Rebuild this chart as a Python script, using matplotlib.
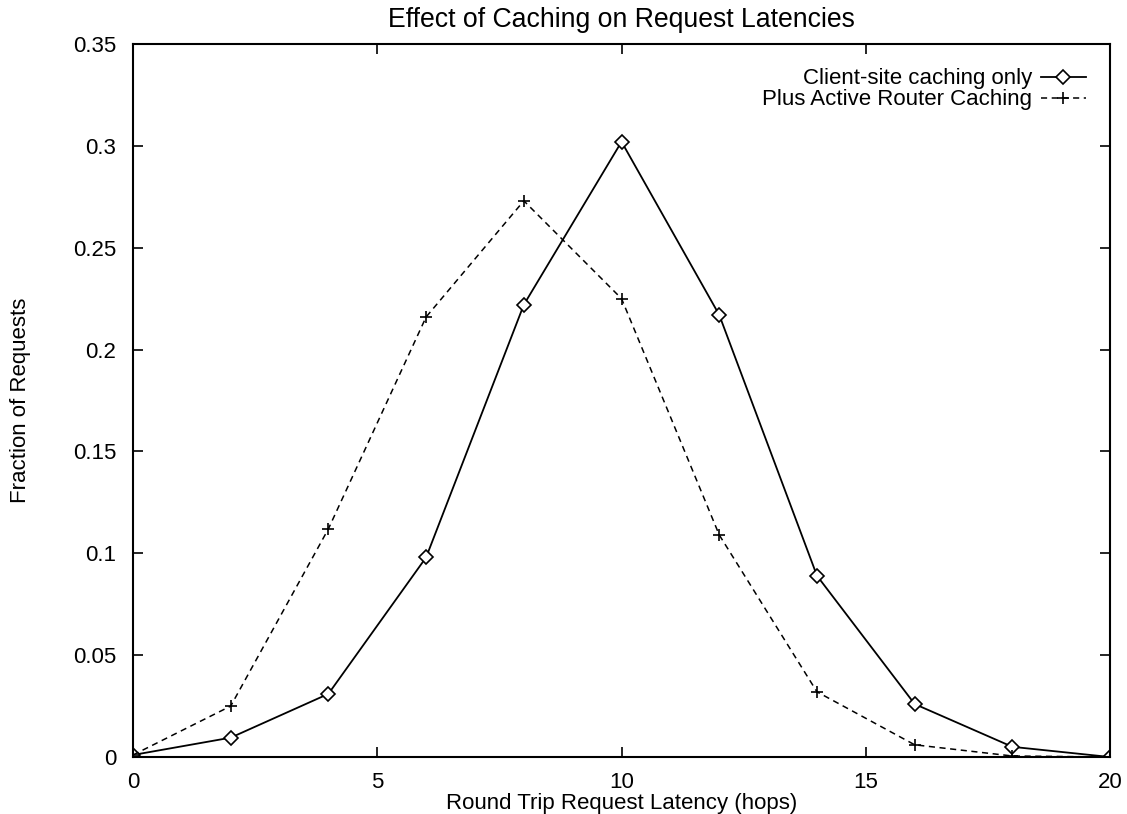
import matplotlib
matplotlib.use("Agg")
import matplotlib.pyplot as plt

hops = [0, 2, 4, 6, 8, 10, 12, 14, 16, 18, 20]
client_only = [0.001, 0.0095, 0.031, 0.098, 0.222, 0.302, 0.217, 0.089, 0.026, 0.005, 0.0]
router_caching = [0.001, 0.025, 0.112, 0.216, 0.273, 0.225, 0.109, 0.032, 0.006, 0.0005, 0.0]

plt.rcParams['font.family'] = ['Liberation Sans', 'DejaVu Sans']
plt.rcParams['font.size'] = 16

fig = plt.figure(figsize=(11.27, 8.14), dpi=100)
ax = fig.add_axes([0.118, 0.070, 0.867, 0.876])

ax.plot(hops, client_only, color='black', lw=1.3, marker='D', ms=7,
        mfc='white', mec='black', mew=1.2, label='Client-site caching only')
ax.plot(hops, router_caching, color='black', lw=1.1, ls=(0, (4, 3)), marker='+',
        ms=9, mew=1.2, label='Plus Active Router Caching')

ax.set_xlim(0, 20)
ax.set_ylim(0, 0.35)
ax.set_xticks([0, 5, 10, 15, 20])
ax.set_yticks([0, 0.05, 0.1, 0.15, 0.2, 0.25, 0.3, 0.35])
ax.set_yticklabels(['0', '0.05', '0.1', '0.15', '0.2', '0.25', '0.3', '0.35'])
ax.tick_params(direction='in', top=True, right=True, length=7, width=1.2)
ax.tick_params(axis='y', pad=12)
ax.tick_params(axis='x', pad=11)
for s in ax.spines.values():
    s.set_linewidth(1.5)

ax.set_title('Effect of Caching on Request Latencies', pad=12)
ax.set_xlabel('Round Trip Request Latency (hops)', labelpad=0)
ax.set_ylabel('Fraction of Requests', labelpad=30)

ax.legend(loc='upper right', frameon=False, markerfirst=False, handlelength=2.0,
          borderaxespad=0.7, labelspacing=0.0, handletextpad=0.4)

fig.savefig('out.png', dpi=100)
